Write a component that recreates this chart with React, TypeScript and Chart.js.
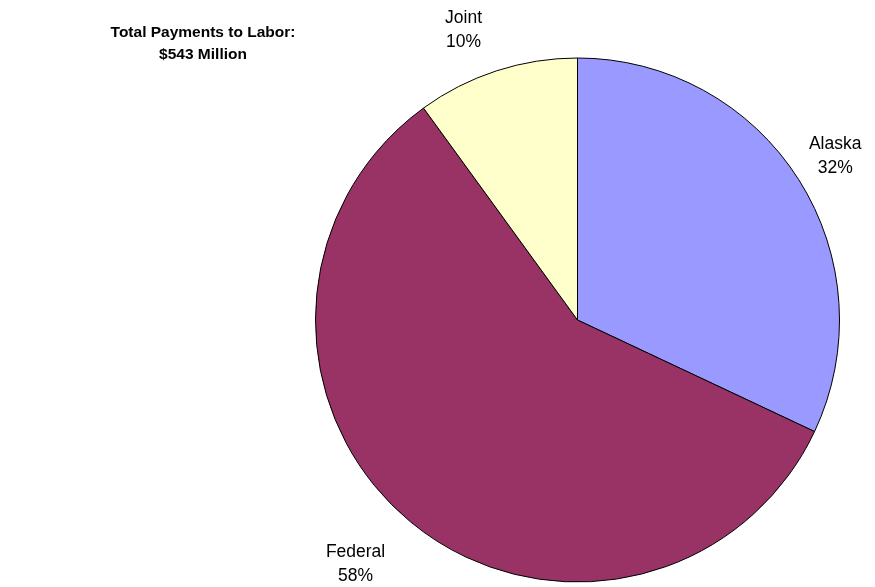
import React, { useEffect, useRef } from "react";
import { Chart, registerables } from "chart.js";

Chart.register(...registerables);

const categories = ["Alaska", "Federal", "Joint"];
const shares = [32, 58, 10];
const sliceColors = ["#9999FF", "#993366", "#FFFFCC"];
const titleLines = ["Total Payments to Labor:", "$543 Million"];

const FONT = '"Liberation Sans", Arial, sans-serif';

const labelPlugin = {
  id: "pieLabels",
  afterDraw(chart: any) {
    const ctx = chart.ctx;
    const meta = chart.getDatasetMeta(0);
    ctx.save();
    ctx.fillStyle = "#000";
    ctx.textAlign = "center";
    ctx.textBaseline = "middle";
    ctx.font = `17.5px ${FONT}`;
    meta.data.forEach((arc: any, i: number) => {
      const p = arc.getProps(["x", "y", "startAngle", "endAngle", "outerRadius"], true);
      const mid = (p.startAngle + p.endAngle) / 2;
      const r = p.outerRadius;
      const ux = Math.cos(mid);
      const uy = Math.sin(mid);
      const d = r * (1.165 + 0.06 * Math.max(uy, 0));
      const lx = p.x + ux * d + (ux < 0 ? -0.075 * r : 0);
      const ly = p.y + uy * d;
      ctx.fillText(categories[i], lx, ly - 12);
      ctx.fillText(`${shares[i]}%`, lx, ly + 12);
    });
    ctx.font = `bold 15.5px ${FONT}`;
    ctx.fillText(titleLines[0], 203, 33);
    ctx.fillText(titleLines[1], 203, 55);
    ctx.restore();
  },
};

export default function App() {
  const ref = useRef<HTMLCanvasElement | null>(null);
  useEffect(() => {
    if (!ref.current) return;
    const chart = new Chart(ref.current, {
      type: "pie",
      data: {
        labels: categories,
        datasets: [
          {
            data: shares,
            backgroundColor: sliceColors,
            borderColor: "#000000",
            borderWidth: 1,
          },
        ],
      },
      options: {
        animation: false,
        responsive: true,
        maintainAspectRatio: false,
        layout: { padding: { left: 315, right: 35, top: 57, bottom: 4 } },
        plugins: {
          legend: { display: false },
          tooltip: { enabled: false },
          title: { display: false },
        },
      },
      plugins: [labelPlugin],
    });
    return () => chart.destroy();
  }, []);
  return (
    <div style={{ position: "absolute", left: 0, top: 0, width: 875, height: 587, background: "#fff" }}>
      <canvas ref={ref} />
    </div>
  );
}
